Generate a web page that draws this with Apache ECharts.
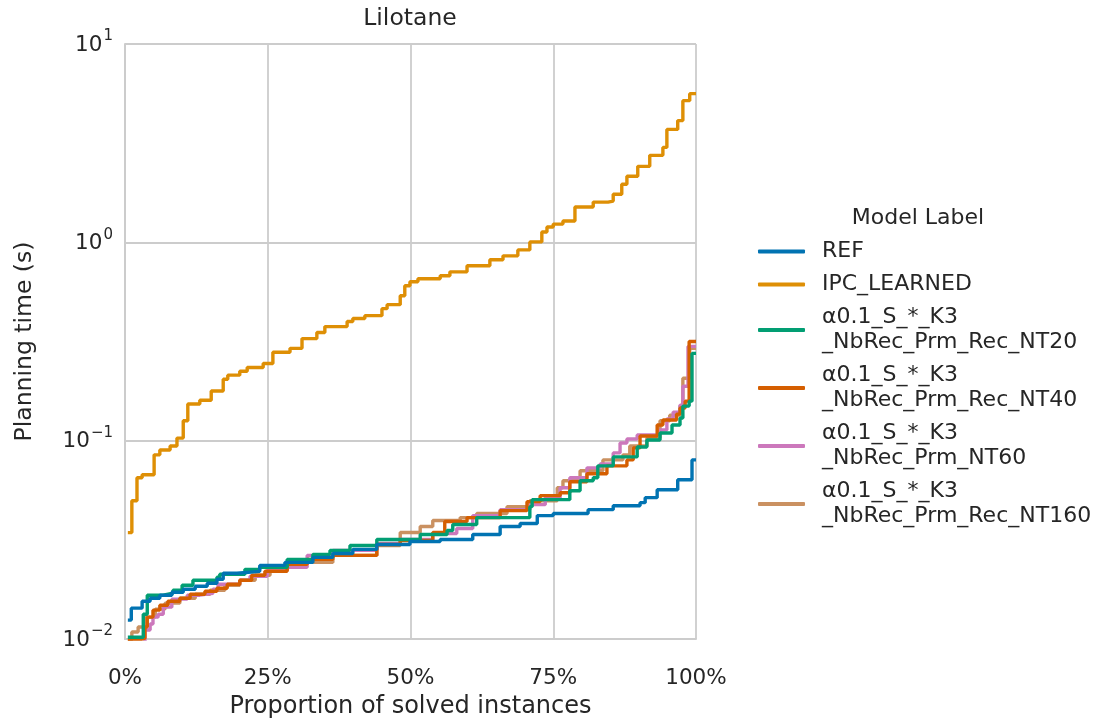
<!DOCTYPE html>
<html>
<head>
<meta charset="utf-8">
<script src="https://cdn.jsdelivr.net/npm/echarts@6/dist/echarts.min.js"></script>
<style>html,body{margin:0;padding:0;background:#fff;}#c{width:1095px;height:724px;}</style>
</head>
<body>
<div id="c"></div>
<script>
const xTicks = [0, 25, 50, 75, 100];
const seriesNames = ['REF', 'IPC_LEARNED', 'α0.1_S_*_K3\n_NbRec_Prm_Rec_NT20', 'α0.1_S_*_K3\n_NbRec_Prm_Rec_NT40', 'α0.1_S_*_K3\n_NbRec_Prm_NT60', 'α0.1_S_*_K3\n_NbRec_Prm_Rec_NT160'];
const colors = ['#0173b2', '#de8f05', '#029e73', '#d55e00', '#cc78bc', '#ca9161'];

const refX = [0.5,1.1,3.0,4.4,6.1,8.2,10.2,12.3,14.4,16.1,17.2,19.6,23.6,28.0,32.9,36.4,39.9,44.1,49.9,55.2,60.9,65.7,69.2,72.2,75.0,81.1,85.5,90.2,91.1,93.2,96.8,99.3,100];
const refY = [0.01245,0.01431,0.0155,0.01606,0.01663,0.01721,0.01782,0.01845,0.0191,0.02,0.02144,0.02194,0.0235,0.02434,0.02579,0.027,0.0283,0.02998,0.03103,0.03176,0.03364,0.0369,0.0382,0.0419,0.0429,0.0449,0.047,0.0487,0.0516,0.0566,0.0635,0.080,0.080];

const ipcX = [0.5,1.2,2.1,3.0,5.1,6.1,7.9,9.1,10.2,11.0,13.1,15.1,17.2,18.0,20.1,21.4,24.2,25.9,28.9,31.0,33.6,35.0,38.9,39.9,42.0,45.0,45.9,48.2,49.0,49.9,51.3,55.2,56.9,59.9,63.9,66.2,68.8,70.9,73.0,73.9,75.0,76.7,78.8,82.0,84.6,85.5,87.0,87.9,89.8,91.9,94.2,94.9,96.8,97.7,98.9,100];
const ipcY = [0.0344,0.0498,0.065,0.0673,0.0848,0.0898,0.094,0.103,0.126,0.153,0.160,0.178,0.204,0.214,0.224,0.234,0.245,0.279,0.292,0.327,0.351,0.376,0.399,0.413,0.427,0.463,0.485,0.538,0.604,0.633,0.655,0.678,0.71,0.762,0.817,0.855,0.916,1.005,1.127,1.194,1.236,1.28,1.506,1.595,1.614,1.749,1.963,2.153,2.416,2.745,3.01,3.71,4.11,5.18,5.62,5.62];

const nt20X = [0.5,3.2,3.9,6.7,8.4,10.0,11.9,16.1,16.6,21.0,23.6,28.4,32.9,35.9,39.4,44.1,51.7,56.4,57.4,61.6,70.9,71.3,77.9,79.7,82.0,82.8,85.5,89.7,91.4,93.7,95.8,97.2,97.7,98.8,99.3,100];
const nt20Y = [0.0102,0.01334,0.01663,0.01701,0.01762,0.01866,0.01977,0.02047,0.02119,0.02245,0.02298,0.0252,0.0267,0.02797,0.02963,0.03176,0.03364,0.03524,0.03776,0.04094,0.04648,0.05042,0.05594,0.06279,0.065,0.07465,0.08284,0.09298,0.1008,0.1093,0.1199,0.13,0.1494,0.1582,0.2754,0.2754];

const nt40X = [0.5,2.6,3.5,3.9,4.9,6.1,7.5,9.6,11.4,14.0,16.1,17.9,20.1,22.2,24.5,28.4,31.9,36.4,44.1,48.2,53.9,56.0,59.9,65.7,70.4,72.7,76.2,77.9,80.9,84.4,87.9,89.0,90.2,93.2,94.2,96.6,97.2,98.1,98.8,100];
const nt40Y = [0.0099,0.0101,0.01149,0.01289,0.01398,0.0148,0.0155,0.01606,0.01682,0.01741,0.01803,0.01888,0.01977,0.02095,0.02194,0.02378,0.0252,0.02639,0.02998,0.0314,0.03443,0.0391,0.04094,0.04439,0.04925,0.05281,0.05467,0.06206,0.06806,0.07465,0.080,0.09192,0.1056,0.1199,0.1271,0.1361,0.146,0.1582,0.3165,0.3165];

const nt60X = [0.5,3.5,4.4,4.9,5.8,6.7,8.2,10.9,13.1,15.4,16.3,20.1,21.9,24.9,28.4,31.9,36.4,44.1,48.2,53.9,58.1,60.9,65.7,70.9,73.6,76.2,77.9,80.9,83.2,85.5,86.7,87.9,89.7,93.7,94.9,96.0,97.2,97.7,98.6,100];
const nt60Y = [0.0095,0.0111,0.0119,0.01289,0.01334,0.01447,0.01588,0.01663,0.01701,0.01782,0.01888,0.01977,0.02071,0.02219,0.02298,0.02639,0.02797,0.03033,0.03176,0.03404,0.03606,0.0419,0.0449,0.04757,0.0516,0.05791,0.065,0.07295,0.07638,0.08675,0.09737,0.102,0.1068,0.1132,0.1285,0.1393,0.1511,0.1882,0.2987,0.2987];

const nt160X = [0.5,1.2,2.3,3.5,5.3,7.0,9.6,12.3,14.9,17.5,20.1,22.8,25.4,28.4,30.6,36.4,44.1,48.2,51.7,53.9,58.7,61.6,66.9,70.9,75.7,76.7,79.7,83.7,87.2,88.4,91.4,93.7,95.4,97.2,97.7,98.9,100];
const nt160Y = [0.0099,0.01084,0.01149,0.01289,0.01414,0.01516,0.01606,0.01682,0.01762,0.01866,0.01977,0.02095,0.02219,0.0235,0.02434,0.02639,0.02963,0.03443,0.0369,0.03955,0.04094,0.0429,0.04648,0.04982,0.05791,0.06279,0.07046,0.080,0.0848,0.094,0.103,0.126,0.1345,0.1494,0.2064,0.2918,0.2918];

const allX = [refX, ipcX, nt20X, nt40X, nt60X, nt160X];
const allY = [refY, ipcY, nt20Y, nt40Y, nt60Y, nt160Y];
const zOrder = [8, 7, 6, 5, 4, 3];

const FONT = 'DejaVu Sans';
const TXT = '#262626';
const GRID = '#cccccc';

const series = seriesNames.map((name, i) => ({
  name: name,
  type: 'line',
  step: 'end',
  showSymbol: false,
  symbol: 'none',
  clip: true,
  z: zOrder[i],
  lineStyle: { color: colors[i], width: 3.4 },
  itemStyle: { color: colors[i] },
  data: allX[i].map((x, j) => [x, allY[i][j]])
}));

const chart = echarts.init(document.getElementById('c'), null, { renderer: 'canvas' });
chart.setOption({
  animation: false,
  backgroundColor: '#ffffff',
  title: [
    { text: 'Lilotane', left: 410, top: 7, textAlign: 'center', padding: 0,
      textStyle: { fontFamily: FONT, fontSize: 23.5, fontWeight: 'normal', color: TXT } },
    { text: 'Model Label', left: 918, top: 207, textAlign: 'center', padding: 0,
      textStyle: { fontFamily: FONT, fontSize: 22, fontWeight: 'normal', color: TXT } }
  ],
  grid: { left: 125, right: 399, top: 44, bottom: 82, containLabel: false },
  legend: {
    orient: 'vertical', left: 758, top: 239, padding: 0, itemGap: 8,
    itemWidth: 47, itemHeight: 4, icon: 'roundRect',
    data: seriesNames,
    textStyle: { fontFamily: FONT, fontSize: 22, color: TXT, lineHeight: 25, padding: [0, 0, 0, 12] }
  },
  xAxis: {
    type: 'value', min: 0, max: 100, interval: 25,
    name: 'Proportion of solved instances', nameLocation: 'middle', nameGap: 56,
    nameTextStyle: { fontFamily: FONT, fontSize: 24, color: TXT },
    axisLine: { show: true, lineStyle: { color: GRID, width: 2 } },
    axisTick: { show: false },
    axisLabel: { formatter: v => v + '%', fontFamily: FONT, fontSize: 21.5, color: TXT, margin: 28 },
    splitLine: { show: true, lineStyle: { color: GRID, width: 1.8 } }
  },
  yAxis: {
    type: 'log', logBase: 10, min: 0.01, max: 10,
    name: 'Planning time (s)', nameLocation: 'middle', nameGap: 88,
    nameTextStyle: { fontFamily: FONT, fontSize: 23.5, color: TXT },
    axisLine: { show: true, lineStyle: { color: GRID, width: 2 } },
    axisTick: { show: false },
    minorTick: { show: false },
    axisLabel: {
      margin: 12,
      formatter: v => {
        const e = Math.round(Math.log10(v));
        return '{b|10}{s|' + (e < 0 ? '\u2212' + (-e) : String(e)) + '}';
      },
      rich: {
        b: { fontFamily: FONT, fontSize: 21.5, color: TXT, verticalAlign: 'bottom', lineHeight: 24 },
        s: { fontFamily: FONT, fontSize: 15, color: TXT, verticalAlign: 'bottom', lineHeight: 24, padding: [0, 0, 12, 1] }
      }
    },
    splitLine: { show: true, lineStyle: { color: GRID, width: 1.8 } }
  },
  series: series
});
</script>
</body>
</html>
